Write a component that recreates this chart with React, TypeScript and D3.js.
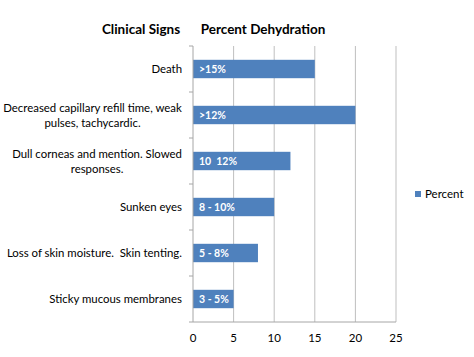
import React from "react";
import * as d3 from "d3";

const categories: string[][] = [
  ["Death"],
  ["Decreased capillary refill time, weak", "pulses, tachycardic."],
  ["Dull corneas and mention. Slowed", "responses."],
  ["Sunken eyes"],
  ["Loss of skin moisture.  Skin tenting."],
  ["Sticky mucous membranes"],
];
const values: number[] = [15, 20, 12, 10, 8, 5];
const barLabels: string[] = [">15%", ">12%", "10  12%", "8 - 10%", "5 - 8%", "3 - 5%"];
const xTicks: number[] = [0, 5, 10, 15, 20, 25];
const seriesName = "Percent";

const W = 474, H = 357;
const FONT = "Lato, 'Liberation Sans', sans-serif";

const keepSpaces = (s: string) => s.replace(/ {2}/g, " \u00A0");

function measure(text: string, font: string): number {
  if (typeof document === "undefined") return text.length * 5;
  const c = document.createElement("canvas");
  const ctx = c.getContext("2d")!;
  ctx.font = font;
  return ctx.measureText(text).width;
}

export default function App() {
  const x = d3.scaleLinear().domain([0, 25]).range([193, 396]);
  const idx = categories.map((_, i) => i);
  const y = d3.scaleBand<number>().domain(idx).range([46, 322]).paddingInner(0.6).paddingOuter(0.3);
  const yBand = d3.scaleBand<number>().domain(idx).range([46, 322]);
  const labelRight = 182;
  const fs = 11.4;
  const labelFont = `${fs}px ${FONT}`;
  return (
    <svg width={W} height={H} style={{ position: "absolute", left: 0, top: 0, background: "#fff" }}>
      <text x={141} y={34} textAnchor="middle" fontFamily={FONT} fontWeight="bold" fontSize={13.5}>Clinical Signs</text>
      <text x={263} y={34} textAnchor="middle" fontFamily={FONT} fontWeight="bold" fontSize={13.5}>Percent Dehydration</text>
      {xTicks.slice(1).map((t) => (
        <line key={t} x1={x(t)} x2={x(t)} y1={46} y2={322} stroke="#BFBFBF" strokeWidth={1} />
      ))}
      {values.map((v, i) => (
        <rect key={i} x={x(0)} y={y(i)!} width={x(v) - x(0)} height={y.bandwidth()} fill="#4F81BD" />
      ))}
      {values.map((v, i) => (
        <text key={i} x={x(0) + 6} y={y(i)! + y.bandwidth() / 2 + 3.5} fill="#fff" fontFamily={FONT} fontWeight="bold" fontSize={10.5}>{keepSpaces(barLabels[i])}</text>
      ))}
      <line x1={x(0)} x2={x(0)} y1={46} y2={322} stroke="#A6A6A6" />
      <line x1={x(0)} x2={x(25)} y1={322} y2={322} stroke="#A6A6A6" />
      {idx.concat([6]).map((i) => {
        const yy = i < 6 ? yBand(i)! : 322;
        return <line key={i} x1={x(0) - 4} x2={x(0)} y1={yy} y2={yy} stroke="#A6A6A6" />;
      })}
      {categories.map((lines, i) => {
        const cy = yBand(i)! + yBand.bandwidth() / 2;
        const w = Math.max(...lines.map((l) => measure(keepSpaces(l), labelFont)));
        const cx = labelRight - w / 2;
        const lh = 15;
        const start = cy - ((lines.length - 1) * lh) / 2 + 4;
        return lines.map((l, j) => (
          <text key={i + "-" + j} x={cx} y={start + j * lh} textAnchor="middle" fontFamily={FONT} fontSize={fs}>{keepSpaces(l)}</text>
        ));
      })}
      {xTicks.map((t) => (
        <text key={t} x={x(t)} y={342} textAnchor="middle" fontFamily={FONT} fontSize={11.5}>{t}</text>
      ))}
      <rect x={415} y={191} width={6} height={6} fill="#4F81BD" />
      <text x={425} y={198} fontFamily={FONT} fontSize={11.5}>{seriesName}</text>
    </svg>
  );
}
